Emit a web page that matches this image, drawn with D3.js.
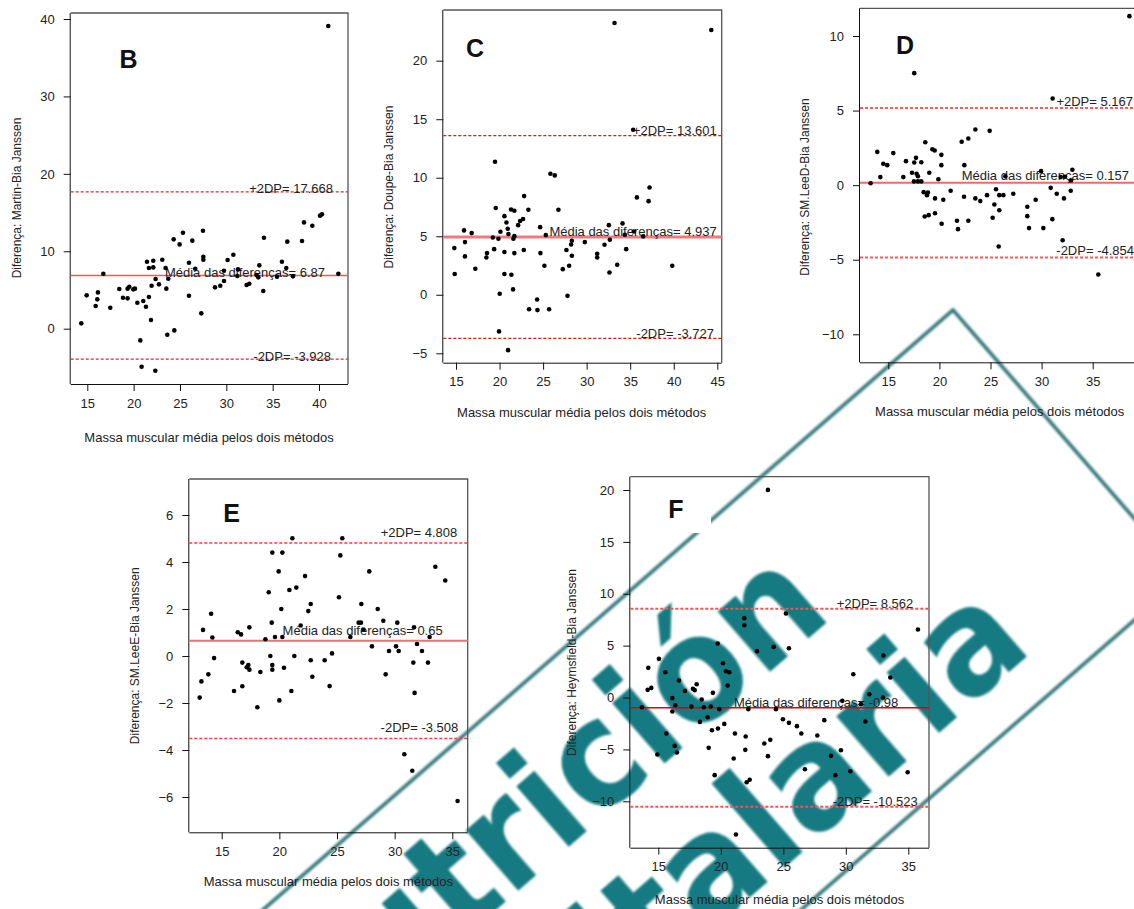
<!DOCTYPE html>
<html><head><meta charset="utf-8">
<script src="https://cdn.jsdelivr.net/npm/d3@7"></script>
<style>
html,body{margin:0;padding:0;background:#fff;}
svg{display:block;}
text{font-family:"Liberation Sans",Arial,sans-serif;}
</style></head>
<body>
<svg id="chart" width="1134" height="909"></svg>
<script>
// ---------- DATA ----------
const xTitle = "Massa muscular média pelos dois métodos";

const bX = [14.35,14.93,15.9,16.08,16.15,16.73,17.48,18.45,18.85,19.35,19.35,19.53,19.96,20.14,20.4,20.72,20.86,21.04,21.33,21.44,21.65,21.65,21.87,21.94,22.12,22.12,22.34,22.37,22.73,23.09,23.45,23.53,23.63,23.74,24.32,24.39,24.96,25.32,25.97,25.97,26.33,26.65,27.3,27.48,27.52,27.52,28.78,29.35,29.75,29.75,30.14,30.76,31.19,31.26,32.19,32.48,33.27,33.45,33.56,33.99,34.06,35.47,36.0,36.47,36.58,37.19,38.17,38.38,39.28,40.11,40.32,41.0,42.09];
const bY = [0.69,4.31,2.93,3.79,4.69,7.1,2.71,5.12,4.0,3.92,5.17,5.42,5.08,5.17,3.36,-1.51,-4.91,3.57,2.84,8.65,7.84,4.09,1.12,5.55,8.78,7.92,-5.43,6.42,5.73,8.91,7.84,5.17,-0.78,6.46,11.54,-0.22,10.89,12.4,8.52,4.26,11.37,7.75,1.98,12.66,9.3,8.91,5.34,5.55,6.16,7.49,8.87,9.56,6.8,7.66,5.64,5.81,6.93,6.63,8.18,4.87,11.75,6.72,8.65,7.84,11.24,6.76,11.32,13.73,13.3,14.6,14.77,39.1,7.1];
const bLines = [17.668, 6.87, -3.928];

const cX = [14.81,14.85,15.92,16.03,16.03,16.8,17.22,18.49,18.56,19.23,19.38,19.48,19.56,19.87,19.94,20.02,20.1,20.56,20.56,20.56,20.79,20.94,20.98,21.02,21.32,21.36,21.55,21.59,21.7,21.7,21.7,22.13,22.36,22.7,22.78,22.82,23.31,23.39,24.31,24.35,24.66,24.69,25.15,25.31,25.69,25.84,26.34,26.76,27.26,27.68,27.8,27.99,28.22,28.3,28.3,29.79,31.21,31.21,32.05,32.55,32.62,32.66,33.2,33.51,34.12,34.39,34.54,35.34,35.42,35.77,36.49,37.11,37.22,39.83,44.31];
const cY = [3.99,1.77,5.5,4.5,3.28,5.27,2.22,3.19,3.56,4.9,3.9,11.37,7.41,4.79,-3.13,0.09,5.38,6.72,3.65,1.77,6.18,5.64,-4.73,5.19,7.29,1.71,0.46,4.79,5.01,7.18,3.56,5.95,6.3,6.47,3.82,8.43,7.26,-1.23,-0.4,-1.31,5.78,3.56,2.48,5.1,-1.23,10.34,10.2,7.26,2.19,3.82,-0.09,2.48,4.3,4.62,3.33,4.5,3.5,3.19,4.27,5.95,1.91,4.7,23.22,2.56,6.1,5.13,3.9,14.1,5.41,8.32,4.99,8.0,9.17,2.48,22.62];
const cLines = [13.601, 4.937, -3.727];

const dX = [13.27,13.92,14.22,14.51,14.9,15.49,16.47,16.73,17.32,17.54,17.54,17.51,17.71,17.77,17.9,17.9,18.23,18.23,18.46,18.56,18.62,18.78,18.88,18.95,19.01,19.31,19.54,19.57,19.57,19.9,20.19,20.19,20.22,20.38,21.1,21.72,21.82,22.18,22.41,22.44,22.83,22.83,23.52,23.52,24.0,24.66,24.92,25.21,25.38,25.54,25.8,25.86,25.86,26.26,26.45,27.23,28.6,28.6,28.77,29.42,29.95,30.17,30.89,31.05,31.08,31.48,31.87,32.06,32.19,32.29,32.85,32.88,33.01,35.55,38.59];
const dY = [0.13,2.23,0.54,1.43,1.34,2.15,0.54,1.61,0.83,7.51,1.52,0.25,1.83,0.76,0.6,0.25,0.25,1.54,-0.47,-2.1,2.88,-0.67,-0.49,-2.01,0.83,2.41,2.32,-0.89,-1.88,0.4,2.03,1.34,-2.59,-0.98,-0.38,-2.39,-2.95,2.91,-0.78,1.34,-2.39,3.13,3.73,-0.89,-1.07,-0.67,3.64,-2.19,-1.3,-0.27,-4.11,-1.68,-0.67,-0.67,0.6,-0.58,-1.45,-2.08,-2.88,-0.98,0.94,-2.88,-0.18,-2.28,5.81,-0.58,0.54,-3.69,-0.89,0.56,-0.38,0.31,1.03,-5.99,11.33];
const dLines = [5.167, 0.157, -4.854];

const eX = [13.09,13.24,13.38,13.84,14.08,14.19,14.34,16.07,16.39,16.68,16.79,16.79,17.17,17.31,17.4,17.4,18.09,18.35,18.79,19.08,19.22,19.34,19.39,19.39,19.39,19.62,19.94,20.0,20.17,20.26,20.26,20.4,20.87,21.04,21.13,21.3,21.47,21.85,22.23,22.51,22.72,22.72,22.86,23.93,24.36,24.57,25.17,25.29,25.46,26.16,26.88,27.08,27.11,27.28,27.8,28.03,28.53,29.02,29.22,29.51,30.12,30.23,30.35,30.84,31.53,31.62,31.68,31.73,31.94,32.37,32.89,33.03,33.53,34.39,35.46];
const eY = [-1.77,-1.08,1.11,-0.78,1.8,0.79,-0.09,-1.49,1.01,0.92,-0.28,-1.29,-0.48,-0.38,1.22,-0.58,-2.18,-0.68,0.71,2.71,0.0,1.42,4.4,-0.38,-0.58,0.81,3.6,-1.89,2.0,4.4,0.81,-0.5,2.81,-1.49,5.01,0.0,2.91,1.3,3.4,1.91,-0.18,2.21,-0.88,-0.18,-1.28,0.11,2.5,4.28,5.01,0.81,1.42,1.42,2.21,1.13,3.6,0.41,2.0,1.5,-0.78,0.21,0.41,1.42,0.21,-4.18,-4.88,-0.28,1.22,-1.57,0.51,0.21,-0.28,0.81,3.8,3.21,-6.17];
const eLines = [4.808, 0.65, -3.508];

const fX = [13.69,14.15,14.2,14.44,14.92,15.05,15.56,15.64,16.12,16.12,16.31,16.36,16.49,16.65,17.13,17.64,17.77,17.91,18.07,18.33,18.47,18.65,18.95,19.03,19.19,19.29,19.37,19.51,19.75,19.77,19.88,20.17,20.28,20.41,20.55,20.68,21.03,21.13,21.21,21.88,21.88,21.99,21.96,22.07,22.2,22.31,22.89,23.48,23.77,23.77,23.96,24.23,24.41,24.97,25.21,25.45,25.45,26.09,26.44,26.73,27.72,28.28,28.81,29.16,29.61,29.72,30.36,30.6,31.21,31.56,31.88,32.97,33.0,33.56,34.95,35.77];
const fY = [-0.93,0.74,2.86,0.93,-5.49,3.73,2.44,-3.47,-0.06,-1.35,-4.66,-0.74,-5.3,1.64,0.64,-0.87,0.84,0.71,1.28,-2.35,-0.19,-0.93,-1.9,-4.85,-0.87,-3.15,0.45,-7.48,5.2,-2.99,-1.12,3.31,-2.54,2.54,1.16,2.44,-5.88,-3.47,-13.2,7.65,6.97,-3.76,-5.04,-8.16,-1.12,-7.93,4.47,-4.43,-5.65,20.01,-4.08,4.88,-1.12,-2.09,8.1,-2.44,4.75,-2.76,-3.47,-6.91,-3.66,-2.18,-5.62,-7.48,-5.08,-0.32,-7.1,2.25,-0.64,-2.31,0.32,0.0,4.05,1.93,-7.2,6.55];
const fLines = [8.562, -0.98, -10.523];

const bXTicks = [15,20,25,30,35,40], bYTicks = [0,10,20,30,40];
const cXTicks = [15,20,25,30,35,40,45], cYTicks = [-5,0,5,10,15,20];
const dXTicks = [15,20,25,30,35], dYTicks = [-10,-5,0,5,10];
const eXTicks = [15,20,25,30,35], eYTicks = [-6,-4,-2,0,2,4,6];
const fXTicks = [15,20,25,30,35], fYTicks = [-10,-5,0,5,10,15,20];

const watermarkLines = ["Nutrición", "Hospitalaria"];

// ---------- LAYOUT / STYLE ----------
const panels = [
  {letter:"B", x:bX, y:bY, lines:bLines, xt:bXTicks, yt:bYTicks, yTitle:"Diferença: Martin-Bia Janssen",
   box:{l:70.7,r:348,t:13,b:384}, xm:[[15,87.3],[40,319]], ym:[[0,328.7],[40,19]],
   lab:{ends:[333,325,331], dy:1.5}, letterPos:[128.5,59], yTitlePos:[17,198], xTitlePos:[209,437],
   mean:{c:"#f05858",w:1.6}, dash:{c:"#e02828",w:1.1}},
  {letter:"C", x:cX, y:cY, lines:cLines, xt:cXTicks, yt:cYTicks, yTitle:"Diferença: Doupe-Bia Janssen",
   box:{l:443.3,r:721.7,t:10,b:362.7}, xm:[[15,456],[45,717.3]], ym:[[-5,353.3],[20,60.7]],
   lab:{ends:[716.7,716.7,714], dy:-0.5}, letterPos:[475,48], yTitlePos:[389,187], xTitlePos:[581.7,412],
   mean:{c:"#f07a7a",w:2.8}, dash:{c:"#e01818",w:1.1}},
  {letter:"D", x:dX, y:dY, lines:dLines, xt:dXTicks, yt:dYTicks, yTitle:"Diferença: SM.LeeD-Bia Janssen",
   box:{l:860,r:1160,t:8.3,b:362.3}, xm:[[15,888.3],[35,1092.7]], ym:[[-10,334.3],[10,36]],
   lab:{ends:[1133,1129,1134], dy:-2.5}, letterPos:[905,45], yTitlePos:[805,187], xTitlePos:[999.7,411],
   mean:{c:"#f06a6a",w:2}, dash:{c:"#ff5a5a",w:2}},
  {letter:"E", x:eX, y:eY, lines:eLines, xt:eXTicks, yt:eYTicks, yTitle:"Diferença: SM.LeeE-Bia Janssen",
   box:{l:189.3,r:467.7,t:479,b:832.3}, xm:[[15,221.7],[35,452.3]], ym:[[-6,797],[6,515]],
   lab:{ends:[457.3,442.7,458.3], dy:-6}, letterPos:[231.5,513], yTitlePos:[135,655.8], xTitlePos:[328.3,881.7],
   mean:{c:"#f07070",w:2}, dash:{c:"#ff3a3a",w:1.5}},
  {letter:"F", x:fX, y:fY, lines:fLines, xt:fXTicks, yt:fYTicks, yTitle:"Diferença: Heymsfield-Bia Janssen",
   box:{l:630.3,r:929,t:476.7,b:847.7}, xm:[[15,658.3],[35,908.3]], ym:[[-10,801.3],[20,490]],
   lab:{ends:[913.3,898.3,917.7], dy:-1}, letterPos:[676,509], yTitlePos:[572.3,662.5], xTitlePos:[779.5,899],
   mean:{c:"#e00000",w:1.5}, dash:{c:"#ff5050",w:2}, whiteBox:[655,485,56,48]}
];

const svg = d3.select("#chart");
svg.append("rect").attr("width",1134).attr("height",909).attr("fill","#fff");

// ---------- WATERMARK ----------
const defs = svg.append("defs");
defs.append("filter").attr("id","blur").append("feGaussianBlur").attr("stdDeviation",1.1);
const wm = svg.append("g").attr("transform","translate(953,310) rotate(-41)").attr("filter","url(#blur)");
wm.append("rect").attr("x",-1600).attr("y",0).attr("width",1600).attr("height",353)
  .attr("fill","none").attr("stroke","#2f7478").attr("stroke-width",3.5);
const wmPos = [[-290,153],[-161,310]];
watermarkLines.forEach((t,i)=>{
  wm.append("g").attr("transform",`translate(${wmPos[i][0]},${wmPos[i][1]}) scale(0.93,1)`)
    .append("text").attr("text-anchor","end")
    .style("font-family","'DejaVu Sans',sans-serif").style("font-weight","bold")
    .style("font-size","146px").attr("fill","#137a82").text(t);
});

// ---------- PANELS ----------
panels.forEach(p=>{
  const g = svg.append("g");
  const x = d3.scaleLinear().domain([p.xm[0][0],p.xm[1][0]]).range([p.xm[0][1],p.xm[1][1]]);
  const y = d3.scaleLinear().domain([p.ym[0][0],p.ym[1][0]]).range([p.ym[0][1],p.ym[1][1]]);
  const B = p.box;
  if (p.whiteBox) g.append("rect").attr("x",p.whiteBox[0]).attr("y",p.whiteBox[1])
      .attr("width",p.whiteBox[2]).attr("height",p.whiteBox[3]).attr("fill","#fff");
  g.append("path").attr("d",`M${B.l},${B.t}H${B.r}V${B.b}`).attr("fill","none")
    .attr("stroke","#555").attr("stroke-width",1.3);
  const xa = g.append("g").attr("transform",`translate(0,${B.b})`)
    .call(d3.axisBottom(x).tickValues(p.xt).tickSize(7).tickPadding(7).tickSizeOuter(0));
  xa.select(".domain").attr("d",`M${B.l},0.5H${B.r}`);
  const ya = g.append("g").attr("transform",`translate(${B.l},0)`)
    .call(d3.axisLeft(y).tickValues(p.yt).tickSize(7).tickPadding(9).tickSizeOuter(0));
  ya.select(".domain").attr("d",`M-0.5,${B.t}V${B.b}`);
  [xa,ya].forEach(a=>{
    a.selectAll("text").style("font-family","'Liberation Sans',Arial,sans-serif").style("font-size","13px").attr("fill","#222");
    a.selectAll("line,path").attr("stroke","#111");
  });
  xa.selectAll("text").attr("dy","0.75em");
  const names = ["+2DP= ","Média das diferenças= ","-2DP= "];
  p.lines.forEach((v,i)=>{
    const st = i===1 ? p.mean : p.dash;
    g.append("line").attr("x1",B.l).attr("x2",B.r).attr("y1",y(v)).attr("y2",y(v))
      .attr("stroke",st.c).attr("stroke-width",st.w)
      .attr("stroke-dasharray", i===1 ? null : "3,2");
    g.append("text").attr("x",p.lab.ends[i]).attr("y",y(v)+p.lab.dy).attr("text-anchor","end")
      .style("font-size","13px").attr("fill","#222").text(names[i]+v);
  });
  g.append("g").selectAll("circle").data(p.x.map((d,i)=>[d,p.y[i]])).join("circle")
    .attr("cx",d=>x(d[0])).attr("cy",d=>y(d[1])).attr("r",2.3).attr("fill","#000");
  g.append("text").attr("x",p.xTitlePos[0]).attr("y",p.xTitlePos[1]).attr("text-anchor","middle")
    .attr("dominant-baseline","central").style("font-size","13px").attr("fill","#222").text(xTitle);
  g.append("text").attr("transform",`translate(${p.yTitlePos[0]},${p.yTitlePos[1]}) rotate(-90)`)
    .attr("text-anchor","middle").attr("dominant-baseline","central").style("font-size","12px")
    .attr("fill","#222").text(p.yTitle);
  g.append("text").attr("x",p.letterPos[0]).attr("y",p.letterPos[1]).attr("text-anchor","middle")
    .attr("dominant-baseline","central").style("font-size","25px").style("font-weight","bold")
    .attr("fill","#111").text(p.letter);
});
</script>
</body></html>
